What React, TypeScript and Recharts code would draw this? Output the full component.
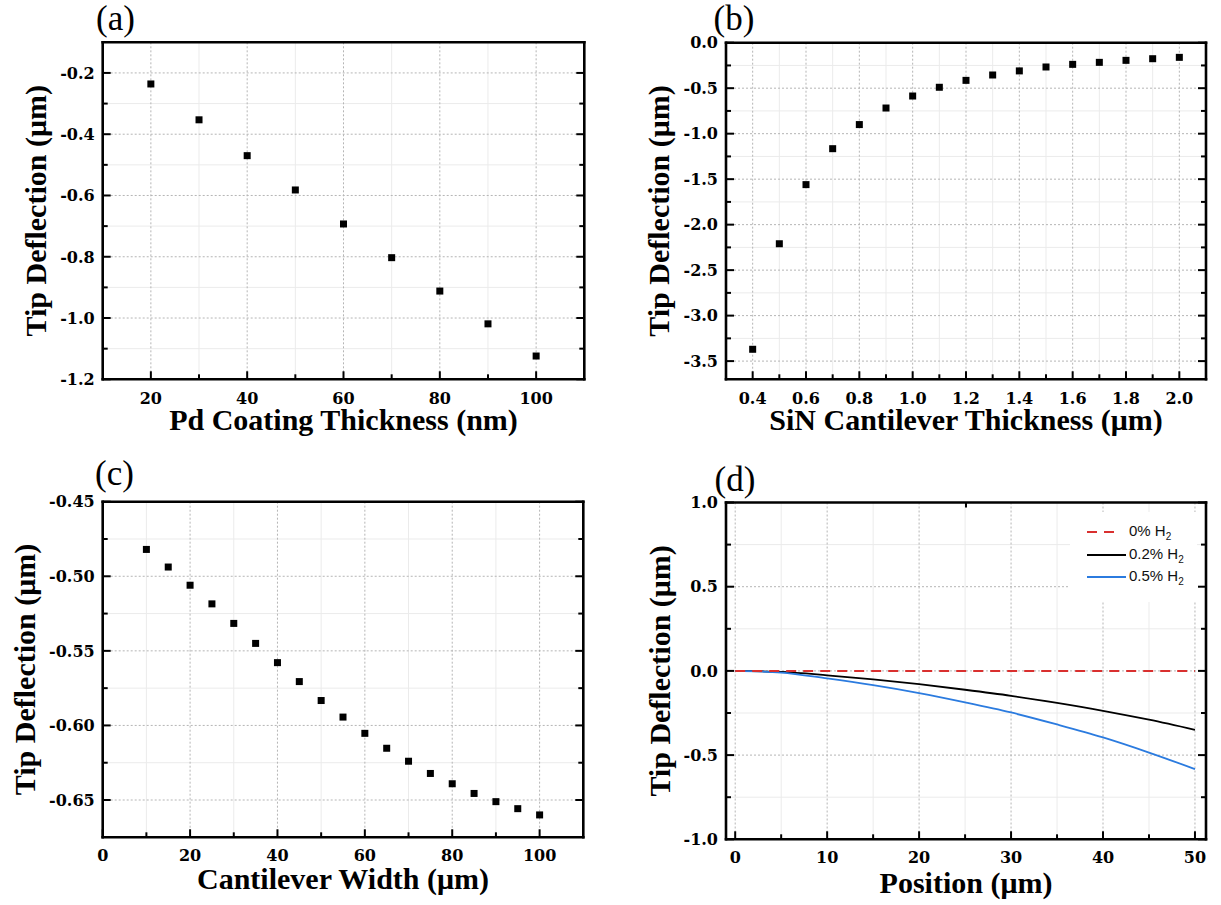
import React from "react";
import {
  ScatterChart,
  Scatter,
  LineChart,
  Line,
  XAxis,
  YAxis,
  CartesianGrid,
  Legend,
} from "recharts";

// (a) tip deflection vs Pd coating thickness
const PD_THICKNESS = [20, 30, 40, 50, 60, 70, 80, 90, 100];
const PD_DEFLECTION = [-0.236, -0.353, -0.47, -0.582, -0.693, -0.803, -0.912, -1.019, -1.124];

// (b) tip deflection vs SiN cantilever thickness
const SIN_THICKNESS = [0.4, 0.5, 0.6, 0.7, 0.8, 0.9, 1.0, 1.1, 1.2, 1.3, 1.4, 1.5, 1.6, 1.7, 1.8, 1.9, 2.0];
const SIN_DEFLECTION = [
  -3.37, -2.21, -1.56, -1.165, -0.9, -0.718, -0.586, -0.49, -0.414, -0.355, -0.31, -0.267, -0.238,
  -0.216, -0.194, -0.176, -0.161,
];

// (c) tip deflection vs cantilever width
const CANT_WIDTH = [10, 15, 20, 25, 30, 35, 40, 45, 50, 55, 60, 65, 70, 75, 80, 85, 90, 95, 100];
const WIDTH_DEFLECTION = [
  -0.482, -0.4938, -0.506, -0.5185, -0.5316, -0.545, -0.5579, -0.5706, -0.5833, -0.5944, -0.6053,
  -0.6153, -0.624, -0.6322, -0.6391, -0.6456, -0.6511, -0.6558, -0.66,
];

// (d) deflection profile along the cantilever
const POSITION = [0, 5, 10, 15, 20, 25, 30, 35, 40, 45, 50];
const H2_0 = [0, 0, 0, 0, 0, 0, 0, 0, 0, 0, 0];
const H2_02 = [0, -0.006, -0.026, -0.05, -0.079, -0.112, -0.148, -0.19, -0.237, -0.29, -0.35];
const H2_05 = [0, -0.01, -0.045, -0.085, -0.132, -0.187, -0.247, -0.318, -0.395, -0.485, -0.583];

// axis ticks
const A_X_MAJOR = [20, 40, 60, 80, 100];
const A_X_MINOR = [30, 50, 70, 90];
const A_Y_MAJOR = [-1.2, -1.0, -0.8, -0.6, -0.4, -0.2];
const A_Y_MINOR = [-1.1, -0.9, -0.7, -0.5, -0.3];

const B_X_MAJOR = [0.4, 0.6, 0.8, 1.0, 1.2, 1.4, 1.6, 1.8, 2.0];
const B_X_MINOR = [0.5, 0.7, 0.9, 1.1, 1.3, 1.5, 1.7, 1.9];
const B_Y_MAJOR = [-3.5, -3.0, -2.5, -2.0, -1.5, -1.0, -0.5, 0];
const B_Y_MINOR = [-3.25, -2.75, -2.25, -1.75, -1.25, -0.75, -0.25];

const C_X_MAJOR = [0, 20, 40, 60, 80, 100];
const C_X_MINOR = [10, 30, 50, 70, 90];
const C_Y_MAJOR = [-0.65, -0.6, -0.55, -0.5, -0.45];
const C_Y_MINOR = [-0.625, -0.575, -0.525, -0.475];

const D_X_MAJOR = [0, 10, 20, 30, 40, 50];
const D_X_MINOR = [5, 15, 25, 35, 45];
const D_Y_MAJOR = [-1, -0.5, 0, 0.5, 1];
const D_Y_MINOR = [-0.75, -0.25, 0.25, 0.75];

const LEGEND_ORDER = ["0%", "0.2%", "0.5%"];

const A_ROWS = PD_THICKNESS.map((x, i) => ({ x, y: PD_DEFLECTION[i] }));
const B_ROWS = SIN_THICKNESS.map((x, i) => ({ x, y: SIN_DEFLECTION[i] }));
const C_ROWS = CANT_WIDTH.map((x, i) => ({ x, y: WIDTH_DEFLECTION[i] }));
const D_ROWS = POSITION.map((x, i) => ({ x, h0: H2_0[i], h02: H2_02[i], h05: H2_05[i] }));

const FRAME_LINE = { stroke: "#000", strokeWidth: 2.6, strokeLinecap: "square" as const };
const TICK_FONT = { fontFamily: "'DejaVu Serif', serif", fontWeight: 700, fontSize: 16, fill: "#000" };
const TITLE_STYLE = {
  fontFamily: "'Liberation Serif', serif",
  fontWeight: 700,
  fontSize: 30,
  fill: "#000",
  textAnchor: "middle" as const,
};

interface AxisSpec {
  domain: [number, number];
  major: number[];
  minor: number[];
  digits: number;
  title: string;
}

interface FrameSpec {
  x: AxisSpec;
  y: AxisSpec;
  yWidth: number;
  xHeight: number;
  yTitleAt: number;
  xTitleAt: number;
  xGap: number;
}

const isMajor = (list: number[], v: number) => list.some((m) => Math.abs(m - v) < 1e-9);
const allTicks = (a: AxisSpec) => [...a.major, ...a.minor].sort((p, q) => p - q);
const tickLen = (a: AxisSpec, v: number) => (isMajor(a.major, v) ? 8 : 5);

const leftTick = (a: AxisSpec, gap: number) => (p: any) => {
  const v = p.payload.value;
  const ax = p.x + gap;
  return (
    <g>
      <line x1={ax} x2={ax + tickLen(a, v)} y1={p.y} y2={p.y} stroke="#000" strokeWidth={2} />
      {isMajor(a.major, v) && (
        <text x={p.x} y={p.y} dy="0.36em" textAnchor="end" {...TICK_FONT}>
          {v.toFixed(a.digits)}
        </text>
      )}
    </g>
  );
};

const bottomTick = (a: AxisSpec, gap: number) => (p: any) => {
  const v = p.payload.value;
  const ay = p.y - gap;
  return (
    <g>
      <line x1={p.x} x2={p.x} y1={ay} y2={ay - tickLen(a, v)} stroke="#000" strokeWidth={2} />
      {isMajor(a.major, v) && (
        <text x={p.x} y={p.y} dy="0.71em" textAnchor="middle" {...TICK_FONT}>
          {v.toFixed(a.digits)}
        </text>
      )}
    </g>
  );
};

// top / right axes only carry inward tick marks (their box is 1px, ticks start at the frame)
const topTick = (a: AxisSpec) => (p: any) => (
  <line x1={p.x} x2={p.x} y1={p.y} y2={p.y + tickLen(a, p.payload.value)} stroke="#000" strokeWidth={2} />
);

const rightTick = (a: AxisSpec) => (p: any) => (
  <line x1={p.x} x2={p.x - tickLen(a, p.payload.value)} y1={p.y} y2={p.y} stroke="#000" strokeWidth={2} />
);

function frame(f: FrameSpec) {
  const xt = allTicks(f.x);
  const yt = allTicks(f.y);
  return [
    <CartesianGrid key="gminor" horizontalValues={f.y.minor} verticalValues={f.x.minor} stroke="#ebebeb" />,
    <CartesianGrid
      key="gmajor"
      horizontalValues={f.y.major}
      verticalValues={f.x.major}
      stroke="#b5b5b5"
      strokeDasharray="2 2"
    />,
    <XAxis
      key="xb"
      type="number"
      dataKey="x"
      domain={f.x.domain}
      allowDataOverflow
      ticks={xt}
      interval={0}
      height={f.xHeight}
      tickLine={false}
      tickSize={0}
      tickMargin={f.xGap}
      axisLine={FRAME_LINE}
      tick={bottomTick(f.x, f.xGap)}
      label={{ value: f.x.title, position: "insideBottom", offset: f.xTitleAt, fill: "#000", style: TITLE_STYLE }}
    />,
    <XAxis
      key="xt"
      xAxisId="top"
      orientation="top"
      type="number"
      domain={f.x.domain}
      allowDataOverflow
      ticks={xt}
      interval={0}
      height={1}
      tickLine={false}
      tickSize={0}
      tickMargin={0}
      axisLine={FRAME_LINE}
      tick={topTick(f.x)}
    />,
    <YAxis
      key="yl"
      type="number"
      dataKey="y"
      domain={f.y.domain}
      allowDataOverflow
      ticks={yt}
      interval={0}
      width={f.yWidth}
      tickLine={false}
      tickSize={0}
      tickMargin={8}
      axisLine={FRAME_LINE}
      tick={leftTick(f.y, 8)}
      label={{
        value: f.y.title,
        angle: -90,
        position: "insideLeft",
        offset: f.yTitleAt,
        fill: "#000",
        style: TITLE_STYLE,
      }}
    />,
    <YAxis
      key="yr"
      yAxisId="right"
      orientation="right"
      type="number"
      domain={f.y.domain}
      allowDataOverflow
      ticks={yt}
      interval={0}
      width={1}
      tickLine={false}
      tickSize={0}
      tickMargin={0}
      axisLine={FRAME_LINE}
      tick={rightTick(f.y)}
    />,
  ];
}

const square = (p: any) => <rect x={p.cx - 3.5} y={p.cy - 3.5} width={7} height={7} fill="#000" />;

const DEFLECTION_TITLE = "Tip Deflection (\u03bcm)";

const PANEL_A: FrameSpec = {
  x: { domain: [10, 110], major: A_X_MAJOR, minor: A_X_MINOR, digits: 0, title: "Pd Coating Thickness (nm)" },
  y: { domain: [-1.2, -0.1], major: A_Y_MAJOR, minor: A_Y_MINOR, digits: 1, title: DEFLECTION_TITLE },
  yWidth: 102.7,
  xHeight: 72.7,
  yTitleAt: 35.4,
  xTitleAt: 22,
  xGap: 13,
};

const PANEL_B: FrameSpec = {
  x: {
    domain: [0.3, 2.1],
    major: B_X_MAJOR,
    minor: B_X_MINOR,
    digits: 1,
    title: "SiN Cantilever Thickness (\u03bcm)",
  },
  y: { domain: [-3.7, 0], major: B_Y_MAJOR, minor: B_Y_MINOR, digits: 1, title: DEFLECTION_TITLE },
  yWidth: 116,
  xHeight: 72.7,
  yTitleAt: 48.8,
  xTitleAt: 22,
  xGap: 13,
};

const PANEL_C: FrameSpec = {
  x: { domain: [0, 110], major: C_X_MAJOR, minor: C_X_MINOR, digits: 0, title: "Cantilever Width (\u03bcm)" },
  y: { domain: [-0.675, -0.45], major: C_Y_MAJOR, minor: C_Y_MINOR, digits: 2, title: DEFLECTION_TITLE },
  yWidth: 102.7,
  xHeight: 67.7,
  yTitleAt: 24,
  xTitleAt: 16.2,
  xGap: 12,
};

const PANEL_D: FrameSpec = {
  x: { domain: [-1, 51.2], major: D_X_MAJOR, minor: D_X_MINOR, digits: 0, title: "Position (\u03bcm)" },
  y: { domain: [-1, 1], major: D_Y_MAJOR, minor: D_Y_MINOR, digits: 1, title: DEFLECTION_TITLE },
  yWidth: 116,
  xHeight: 65.7,
  yTitleAt: 49.4,
  xTitleAt: 12.5,
  xGap: 12,
};

function H2Legend(props: any) {
  const items = [...(props.payload ?? [])].sort(
    (a: any, b: any) => LEGEND_ORDER.indexOf(a.value) - LEGEND_ORDER.indexOf(b.value)
  );
  return (
    <div
      style={{
        background: "#fff",
        width: "100%",
        height: "100%",
        boxSizing: "border-box",
        paddingTop: 9,
        fontFamily: "'Liberation Sans', Arial, sans-serif",
        fontSize: 15,
        color: "#111",
      }}
    >
      {items.map((it: any) => {
        const dash = it.payload?.strokeDasharray;
        return (
          <div key={it.value} style={{ display: "flex", alignItems: "center", height: 22.5, paddingLeft: 17 }}>
            <svg width={42} height={10}>
              <line x1={0} x2={dash ? 30 : 39} y1={5} y2={5} stroke={it.color} strokeWidth={2} strokeDasharray={dash} />
            </svg>
            <span>
              {it.value} H<sub style={{ fontSize: 10 }}>2</sub>
            </span>
          </div>
        );
      })}
    </div>
  );
}

const letterStyle = (left: number, top: number): React.CSSProperties => ({
  position: "absolute",
  left,
  top,
  fontFamily: "'Liberation Serif', serif",
  fontSize: 35,
  lineHeight: "35px",
  color: "#000",
});

export default function App() {
  return (
    <div style={{ position: "absolute", left: 0, top: 0, width: 1221, height: 905, background: "#fff" }}>
      <div style={{ position: "absolute", left: 0, top: 0 }}>
        <ScatterChart width={610} height={452} margin={{ top: 41.3, right: 24.7, bottom: 0, left: 0 }}>
          {frame(PANEL_A)}
          <Scatter data={A_ROWS} dataKey="y" shape={square} isAnimationActive={false} />
        </ScatterChart>
      </div>

      <div style={{ position: "absolute", left: 610, top: 0 }}>
        <ScatterChart width={611} height={452} margin={{ top: 41.7, right: 14, bottom: 0, left: 0 }}>
          {frame(PANEL_B)}
          <Scatter data={B_ROWS} dataKey="y" shape={square} isAnimationActive={false} />
        </ScatterChart>
      </div>

      <div style={{ position: "absolute", left: 0, top: 452 }}>
        <ScatterChart width={610} height={453} margin={{ top: 48.7, right: 25.7, bottom: 0, left: 0 }}>
          {frame(PANEL_C)}
          <Scatter data={C_ROWS} dataKey="y" shape={square} isAnimationActive={false} />
        </ScatterChart>
      </div>

      <div style={{ position: "absolute", left: 610, top: 452 }}>
        <LineChart width={611} height={453} data={D_ROWS} margin={{ top: 49.5, right: 14, bottom: 0, left: 0 }}>
          {frame(PANEL_D)}
          <Line
            name="0.2%"
            dataKey="h02"
            type="monotone"
            stroke="#000"
            strokeWidth={1.8}
            dot={false}
            isAnimationActive={false}
          />
          <Line
            name="0.5%"
            dataKey="h05"
            type="monotone"
            stroke="#2b7bdf"
            strokeWidth={1.8}
            dot={false}
            isAnimationActive={false}
          />
          <Line
            name="0%"
            dataKey="h0"
            type="monotone"
            stroke="#d9302f"
            strokeWidth={2}
            strokeDasharray="10 7"
            dot={false}
            isAnimationActive={false}
          />
          <Legend
            layout="horizontal"
            verticalAlign="middle"
            align="center"
            content={H2Legend}
            wrapperStyle={{ left: 460, top: 60, width: 127, height: 90 }}
          />
        </LineChart>
      </div>

      <div style={letterStyle(96, 0.5)}>(a)</div>
      <div style={letterStyle(713.5, 0.5)}>(b)</div>
      <div style={letterStyle(95, 456)}>(c)</div>
      <div style={letterStyle(714.5, 461.5)}>(d)</div>
    </div>
  );
}
